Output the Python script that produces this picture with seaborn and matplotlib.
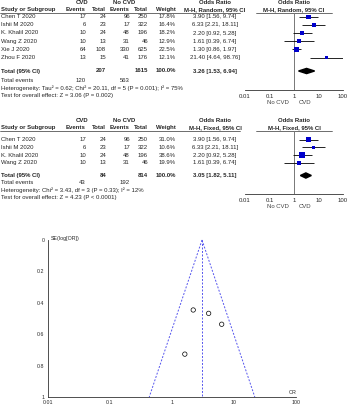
import numpy as np
import pandas as pd
import seaborn as sns
import matplotlib.pyplot as plt

# dados - meta-analise 1 (random effects)
estudos1 = ["Chen T 2020", "Ishii M 2020", "K. Khalil 2020", "Wang Z 2020", "Xie J 2020", "Zhou F 2020"]
cvd_ev1 = [17, 6, 10, 10, 64, 13]
cvd_tot1 = [24, 23, 24, 13, 108, 15]
nocvd_ev1 = [96, 17, 48, 31, 330, 41]
nocvd_tot1 = [250, 322, 196, 46, 625, 176]
peso1 = [17.8, 16.4, 18.2, 12.9, 22.5, 12.1]
or1 = [3.90, 6.33, 2.20, 1.61, 1.30, 21.40]
li1 = [1.56, 2.21, 0.92, 0.39, 0.86, 4.64]
ls1 = [9.74, 18.11, 5.28, 6.74, 1.97, 98.76]
total1 = [207, 1615]
eventos1 = [120, 563]
pooled1 = [3.26, 1.53, 6.94]
het1 = "Heterogeneity: Tau² = 0.62; Chi² = 20.11, df = 5 (P = 0.001); I² = 75%"
teste1 = "Test for overall effect: Z = 3.06 (P = 0.002)"

# dados - meta-analise 2 (fixed effect)
estudos2 = ["Chen T 2020", "Ishii M 2020", "K. Khalil 2020", "Wang Z 2020"]
cvd_ev2 = [17, 6, 10, 10]
cvd_tot2 = [24, 23, 24, 13]
nocvd_ev2 = [96, 17, 48, 31]
nocvd_tot2 = [250, 322, 196, 46]
peso2 = [31.0, 10.6, 38.6, 19.9]
or2 = [3.90, 6.33, 2.20, 1.61]
li2 = [1.56, 2.21, 0.92, 0.39]
ls2 = [9.74, 18.11, 5.28, 6.74]
total2 = [84, 814]
eventos2 = [43, 192]
pooled2 = [3.05, 1.82, 5.11]
het2 = "Heterogeneity: Chi² = 3.43, df = 3 (P = 0.33); I² = 12%"
teste2 = "Test for overall effect: Z = 4.23 (P < 0.0001)"

ticks_or = [0.01, 0.1, 1, 10, 100]
ticks_or_lab = ["0.01", "0.1", "1", "10", "100"]
ticks_se = [0, 0.2, 0.4, 0.6, 0.8, 1]
ticks_se_lab = ["0", "0.2", "0.4", "0.6", "0.8", "1"]

sns.set_style("white")
plt.rcParams['font.family'] = ['Liberation Sans', 'DejaVu Sans']
FS = 4.3
AZUL = "#0000cc"
W, H = 350, 405

fig = plt.figure(figsize=(3.5, 4.05), dpi=100)
tx = fig.add_axes([0, 0, 1, 1])
tx.set_xlim(0, W)
tx.set_ylim(H, 0)
tx.axis('off')

# colunas (px)
X_EVC, X_TOTC, X_EVN, X_TOTN, X_PESO, X_OR = 86, 106, 130, 148, 176, 215


def tabela(y0, linhas, modelo, estudos, cev, ctot, nev, ntot, peso, orr, li, ls,
           total, eventos, pooled, y_tot, y_ev, het, teste):
    b = dict(fontsize=FS, fontweight='bold', va='center')
    n = dict(fontsize=FS, va='center')
    tx.text(82, y0, "CVD", ha='center', **b)
    tx.text(124, y0, "No CVD", ha='center', **b)
    tx.text(X_OR, y0, "Odds Ratio", ha='center', **b)
    tx.text(294, y0, "Odds Ratio", ha='center', **b)
    y1 = y0 + 7.7
    tx.text(1, y1, "Study or Subgroup", ha='left', **b)
    for x, lab in [(X_EVC, "Events"), (X_TOTC, "Total"), (X_EVN, "Events"),
                   (X_TOTN, "Total"), (X_PESO, "Weight")]:
        tx.text(x, y1, lab, ha='right', **b)
    tx.text(X_OR, y1, "M-H, %s, 95%% CI" % modelo, ha='center', **b)
    tx.text(294, y1, "M-H, %s, 95%% CI" % modelo, ha='center', **b)
    tx.plot([0, 240], [y1 + 3, y1 + 3], color='#333333', lw=0.5)
    tx.plot([256, 332], [y1 + 3, y1 + 3], color='#333333', lw=0.5)
    for i, y in enumerate(linhas):
        tx.text(1, y, estudos[i], ha='left', **n)
        tx.text(X_EVC, y, str(cev[i]), ha='right', **n)
        tx.text(X_TOTC, y, str(ctot[i]), ha='right', **n)
        tx.text(X_EVN, y, str(nev[i]), ha='right', **n)
        tx.text(X_TOTN, y, str(ntot[i]), ha='right', **n)
        tx.text(X_PESO, y, "%.1f%%" % peso[i], ha='right', **n)
        tx.text(X_OR, y, "%.2f [%.2f, %.2f]" % (orr[i], li[i], ls[i]), ha='center', **n)
    tx.text(1, y_tot, "Total (95% CI)", ha='left', **b)
    tx.text(X_TOTC, y_tot, str(total[0]), ha='right', **b)
    tx.text(X_TOTN, y_tot, str(total[1]), ha='right', **b)
    tx.text(X_PESO, y_tot, "100.0%", ha='right', **b)
    tx.text(X_OR, y_tot, "%.2f [%.2f, %.2f]" % tuple(pooled), ha='center', **b)
    tx.text(1, y_ev, "Total events", ha='left', **n)
    tx.text(X_EVC, y_ev, str(eventos[0]), ha='right', **n)
    tx.text(X_EVN, y_ev, str(eventos[1]), ha='right', **n)
    tx.text(1, y_ev + 7.5, het, ha='left', **n)
    tx.text(1, y_ev + 15, teste, ha='left', **n)


def floresta(y_topo, y_eixo, linhas, orr, li, ls, peso, pooled, y_tot):
    x0, x1 = 245, 343
    ax = fig.add_axes([x0 / W, 1 - y_eixo / H, (x1 - x0) / W, (y_eixo - y_topo) / H])
    ax.set_xscale('log')
    ax.set_xlim(0.01, 100)
    ax.set_ylim(y_eixo, y_topo)
    ax.patch.set_alpha(0)
    for s in ['top', 'right', 'left']:
        ax.spines[s].set_visible(False)
    ax.spines['bottom'].set_linewidth(0.6)
    ax.spines['bottom'].set_color('#333333')
    ax.set_xticks(ticks_or)
    ax.set_xticklabels(ticks_or_lab)
    ax.minorticks_off()
    ax.set_yticks([])
    ax.tick_params(axis='x', direction='inout', length=3, width=0.6, labelsize=FS,
                   pad=1.5, color='#333333')
    ax.axvline(1, color='#777777', lw=0.7, zorder=1)
    ax.hlines(linhas, li, ls, color='black', lw=0.6, zorder=2)
    df = pd.DataFrame({'or': orr, 'y': linhas, 'peso': peso})
    k = 0.5
    sns.scatterplot(data=df, x='or', y='y', size='peso', sizes=(k * min(peso), k * max(peso)),
                    marker='s', color=AZUL, edgecolor=AZUL, linewidth=0, legend=False,
                    ax=ax, zorder=3)
    m, lo, hi = pooled
    ax.fill([lo, m, hi, m], [y_tot, y_tot - 2.6, y_tot, y_tot + 2.6], color='black', zorder=3)
    ax.set_xlabel('')
    ax.set_ylabel('')
    tx.text(289, y_eixo + 12, "No CVD", ha='right', va='center', fontsize=FS, color='#444444')
    tx.text(299, y_eixo + 12, "CVD", ha='left', va='center', fontsize=FS, color='#444444')


linhas1 = [16.6 + 8.2 * i for i in range(len(estudos1))]
tabela(2, linhas1, "Random", estudos1, cvd_ev1, cvd_tot1, nocvd_ev1, nocvd_tot1, peso1,
       or1, li1, ls1, total1, eventos1, pooled1, 71, 80.5, het1, teste1)
floresta(12.5, 90, linhas1, or1, li1, ls1, peso1, pooled1, 71)

linhas2 = [139.5 + 7.8 * i for i in range(len(estudos2))]
tabela(120, linhas2, "Fixed", estudos2, cvd_ev2, cvd_tot2, nocvd_ev2, nocvd_tot2, peso2,
       or2, li2, ls2, total2, eventos2, pooled2, 175.5, 182.5, het2, teste2)
floresta(130.5, 194, linhas2, or2, li2, ls2, peso2, pooled2, 175.5)

# funnel plot
se2 = [np.log(b / a) / (2 * 1.96) for a, b in zip(li2, ls2)]
fx0, fx1, fy0, fy1 = 48, 296, 240, 397
af = fig.add_axes([fx0 / W, 1 - fy1 / H, (fx1 - fx0) / W, (fy1 - fy0) / H])
af.set_xscale('log')
af.set_xlim(0.01, 100)
af.set_ylim(1, 0)
af.patch.set_alpha(0)
for s in ['top', 'right']:
    af.spines[s].set_visible(False)
for s in ['left', 'bottom']:
    af.spines[s].set_linewidth(0.6)
    af.spines[s].set_color('#333333')
af.set_xticks(ticks_or)
af.set_xticklabels(ticks_or_lab)
af.set_yticks(ticks_se)
af.set_yticklabels(ticks_se_lab)
af.minorticks_off()
af.tick_params(direction='inout', length=3, width=0.6, labelsize=3.8, pad=1, color='#333333')

se_linha = np.array([0, 1])
p = pooled2[0]
af.plot(p * np.exp(-1.96 * se_linha), se_linha, color='#5555ee', lw=0.7, ls=(0, (2, 1.6)), clip_on=False)
af.plot(p * np.exp(1.96 * se_linha), se_linha, color='#5555ee', lw=0.7, ls=(0, (2, 1.6)), clip_on=False)
af.plot([p, p], se_linha, color='#5555ee', lw=0.7, ls=(0, (2, 1.6)), clip_on=False)

df_f = pd.DataFrame({'or': or2, 'se': se2})
sns.scatterplot(data=df_f, x='or', y='se', marker='o', s=10, facecolor='none',
                edgecolor='black', linewidth=0.5, legend=False, ax=af, zorder=3)
af.set_xlabel('')
af.set_ylabel('')
af.text(0.012, 1.012, "SE(log[OR])", transform=af.transAxes, ha='left', va='center', fontsize=3.8)
af.text(0.985, 0.012, "OR", transform=af.transAxes, ha='center', va='bottom', fontsize=3.8)

plt.savefig('out.png', dpi=100)
